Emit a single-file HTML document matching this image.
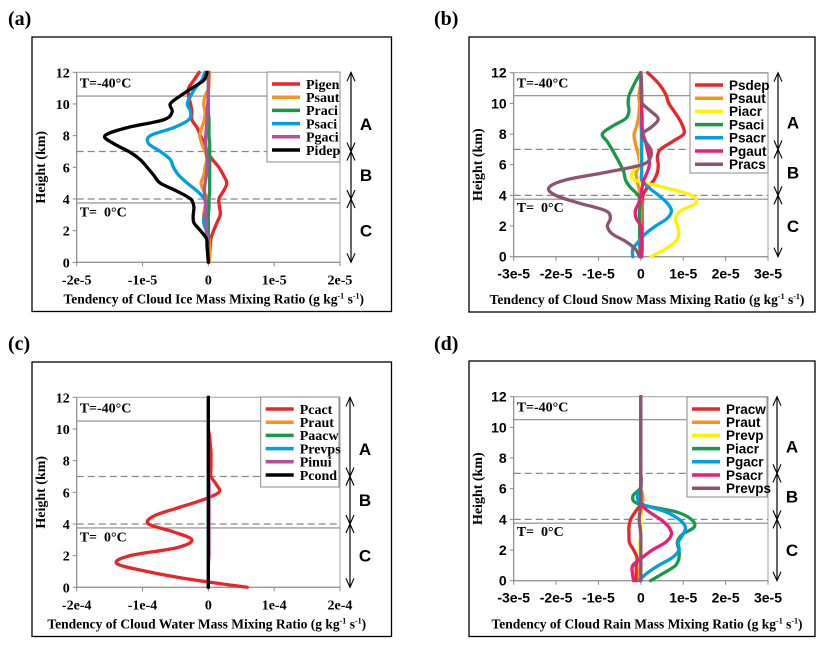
<!DOCTYPE html>
<html><head><meta charset="utf-8"><style>
html,body{margin:0;padding:0;background:#fff;}
svg{display:block;}
.serif{font-family:"Liberation Serif",serif;font-weight:bold;}
.sans{font-family:"Liberation Sans",sans-serif;font-weight:bold;}
</style></head><body>
<svg id="fig" width="824" height="645" viewBox="0 0 824 645" xmlns="http://www.w3.org/2000/svg"></svg>
<script>
// shared heights (km)
const heights = [0,0.5,1,1.5,2,2.5,3,3.5,4,4.5,5,5.5,6,6.5,7,7.5,8,8.5,9,9.5,10,10.5,11,11.5,12];
const yTicks = [0,2,4,6,8,10,12];
// panel a (units 1e-6)
const aNames = ["Pigen","Psaut","Praci","Psaci","Pgaci","Pidep"];
const aPigen = [0.1,0.2,0.3,0.4,0.8,1.3,1.8,1.7,1.6,2.3,2.8,2.3,1.6,0.6,-0.2,-0.6,-1.2,-1.7,-2.5,-2.5,-2.7,-3.0,-3.0,-2.2,-1.4];
const aPsaut = [0.1,0.2,0.2,0.1,-0.3,-0.7,-0.7,-0.5,-0.2,-0.7,-1.1,-0.7,-0.5,-0.2,-0.5,-1.0,-1.3,-1.0,-0.6,-0.5,-0.7,-0.5,0.05,0.1,0.2];
const aPraci = [0,0,0,0,0,0,0,0.1,0.1,0.2,0.2,0.2,0.2,0.2,0.2,0.2,0.1,0.1,0.1,0,0,0,0,0,0];
const aPsaci = [0,-0.1,-0.1,-0.1,-0.3,-0.7,-0.6,-0.3,-0.6,-1.7,-3.2,-4.5,-5.3,-5.8,-7.3,-9.1,-8.8,-5.3,-3.0,-2.7,-3.2,-2.7,-2.0,-1.0,-0.5];
const aPgaci = [0,0,-0.1,-0.2,-0.3,-0.3,-0.4,-0.4,-0.5,-0.6,-0.5,-0.3,-0.2,-0.2,-0.3,-0.4,-0.4,-0.3,-0.2,-0.2,-0.1,0,0,0,0];
const aPidep = [0,-0.1,-0.2,-0.3,-1.2,-2.2,-2.3,-2.2,-2.7,-4.8,-7.3,-8.3,-9.3,-10.4,-12.1,-14.4,-15.7,-12.4,-6.8,-5.5,-5.8,-4.3,-2.5,-0.7,-0.2];
const aXTicks = ["-2e-5","-1e-5","0","1e-5","2e-5"];
// panel b (units 1e-6)
const bNames = ["Psdep","Psaut","Piacr","Psaci","Psacr","Pgaut","Pracs"];
const bPsdep = [0.2,0.3,0.3,0.3,0.3,0.3,0.3,0.3,0.5,1.5,3.1,3.9,4.1,3.9,4.6,7.4,10.1,9.9,9.0,7.8,6.6,6.0,5.0,3.5,1.6];
const bPsaut = [0,0,0,0,0,0,0,0,-0.1,-0.5,-0.9,-1.1,-0.3,-0.5,-0.9,-1.4,-1.6,-1.0,-0.6,-0.4,-0.3,-0.5,-0.2,0,0];
const bPiacr = [2.3,5.8,8.2,9.0,8.6,8.2,9.4,13.0,12.0,5.8,-1.4,-2.0,-0.3,0,0,0,0,0,0,0,0,0,0,0,0];
const bPsaci = [0,-0.2,-0.3,-0.3,-0.3,-0.3,-0.3,-0.1,-0.6,-2.4,-3.6,-4.0,-4.8,-5.8,-6.8,-7.9,-9.1,-6.8,-3.6,-2.8,-3.0,-2.8,-2.0,-1.1,0];
const bPsacr = [-1.9,-1.9,-0.5,1.1,3.5,6.2,7.2,6.2,4.2,1.9,0.2,0.2,0.2,0.2,0.2,0.2,0.2,0.1,0.1,0.1,0.1,0,0,0,0];
const bPgaut = [0.2,0.2,0.2,0.2,0,-1.1,-1.3,-0.5,0,0.3,0.7,1.5,2.0,1.9,1.5,1.1,0.5,0.3,0.3,0.2,0.2,0.2,0.1,0.1,0];
const bPracs = [-0.3,-1.3,-3.6,-6.8,-7.9,-7.2,-8.3,-14.6,-20.1,-21.7,-17.8,-8.3,0.3,2.3,2.3,1.1,0.3,2.7,4.1,2.3,0.3,0.2,0.2,0.1,0];
const bXTicks = ["-3e-5","-2e-5","-1e-5","0","1e-5","2e-5","3e-5"];
// panel c (units 1e-5)
const cNames = ["Pcact","Praut","Paacw","Prevps","Pinui","Pcond"];
const cPcact = [5.9,-2.7,-9.3,-13.9,-11.9,-4.8,-2.5,-5.3,-9.1,-8.3,-4.8,-1.0,1.6,1.2,0.4,0.4,0.4,0.4,0.3,0.2,0,0,0,0,0];
const cPraut = [0,0,0,0,0,0,0,0,0,0,0,0,0,0,0,0,0,0,0,0,0,0,0,0,0];
const cPaacw = [0,0,0,0,0,0,0,0,0,0,0,0,0,0,0,0,0,0,0,0,0,0,0,0,0];
const cPrevps = [0,0,0,0,0,0,0,0,0,0,0,0,0,0,0,0,0,0,0,0,0,0,0,0,0];
const cPinui = [0,0,0,0,0.1,0.1,0.1,0.1,0.1,0.1,0.1,0.1,0.1,0.1,0,0,0,0,0,0,0,0,0,0,0];
const cPcond = [0,0,0,0,0,0,0,0,0,0,0,0,0,0,0,0,0,0,0,0,0,0,0,0,0];
const cXTicks = ["-2e-4","-1e-4","0","1e-4","2e-4"];
// panel d (units 1e-6)
const dNames = ["Pracw","Praut","Prevp","Piacr","Pgacr","Psacr","Prevps"];
const dPracw = [-1.1,-1.1,-1.1,-0.9,-1.7,-2.7,-2.8,-2.8,-2.4,-1.3,0,0,0,0,0,0,0,0,0,0,0,0,0,0,0];
const dPraut = [-0.3,-0.3,-0.2,-0.1,0,0,0,0,0,0.1,0.3,0.5,0,0,0,0,0,0,0,0,0,0,0,0,0];
const dPrevp = [0,0,0,0,-0.2,-0.2,0,0,0,0,0,0,0,0,0,0,0,0,0,0,0,0,0,0,0];
const dPiacr = [2.3,5.4,8.2,9.0,9.0,8.6,9.7,12.6,11.9,8.2,-0.5,-1.9,-0.2,0,0,0,0,0,0,0,0,0,0,0,0];
const dPgacr = [-0.5,1.5,4.2,7.4,9.0,8.8,9.9,10.5,9.0,5.8,0.3,-0.8,0,0,0,0,0,0,0,0,0,0,0,0,0];
const dPsacr = [-1.7,-2.0,-1.9,0.3,2.7,5.8,7.2,6.6,4.6,1.9,0,0,0,0,0,0,0,0,0,0,0,0,0,0,0];
const dPrevps = [0,0,0,0,0,0,0,-0.2,-0.4,-0.2,0,0,0,0.1,0,0,0,0,0,0,0,0,0,0,0];
const dXTicks = ["-3e-5","-2e-5","-1e-5","0","1e-5","2e-5","3e-5"];

const NS="http://www.w3.org/2000/svg";
const svg=document.getElementById('fig');
function mk(tag,attrs,parent,text){const e=document.createElementNS(NS,tag);for(const k in attrs)e.setAttribute(k,attrs[k]);if(text!==undefined)e.textContent=text;(parent||svg).appendChild(e);return e;}
function spline(pts){let d="M"+pts[0][0].toFixed(2)+","+pts[0][1].toFixed(2);for(let i=0;i<pts.length-1;i++){const p0=pts[Math.max(0,i-1)],p1=pts[i],p2=pts[i+1],p3=pts[Math.min(pts.length-1,i+2)];const c1=[p1[0]+(p2[0]-p0[0])/6,p1[1]+(p2[1]-p0[1])/6],c2=[p2[0]-(p3[0]-p1[0])/6,p2[1]-(p3[1]-p1[1])/6];d+=" C"+c1[0].toFixed(2)+","+c1[1].toFixed(2)+" "+c2[0].toFixed(2)+","+c2[1].toFixed(2)+" "+p2[0].toFixed(2)+","+p2[1].toFixed(2);}return d;}

function panel(cfg){
  const g=mk('g',{});
  
  
  const L=cfg.px0,R=cfg.px1,T=cfg.py0,B=cfg.py1;
  const xs=v=>L+(v-cfg.xmin)/(cfg.xmax-cfg.xmin)*(R-L);
  const ys=h=>B-h/12*(B-T);
  const tickFont=cfg.sansTicks?'sans':'serif';
  const lbl=mk('text',{x:cfg.labX,y:cfg.labY,'font-size':20,class:'serif'},g,'('+cfg.id+')');
  
  
  const fr=mk('rect',{x:cfg.fx0,y:cfg.fy0,width:cfg.fx1-cfg.fx0,height:cfg.fy1-cfg.fy0,fill:'none',stroke:'#000','stroke-width':1.3},g);
  
  
  const pa=mk('rect',{x:L,y:T,width:R-L,height:B-T,fill:'none',stroke:'#a0a0a0','stroke-width':1},g);
  
  
  mk('line',{x1:L,y1:T,x2:L,y2:B,stroke:'#888','stroke-width':1},g);
  mk('line',{x1:L,y1:B,x2:R,y2:B,stroke:'#888','stroke-width':1},g);
  yTicks.forEach(t=>{
    mk('line',{x1:L-4,y1:ys(t),x2:L,y2:ys(t),stroke:'#888'},g);
    const tx=mk('text',{x:L-7,y:ys(t)+5,'font-size':14,'text-anchor':'end',class:tickFont},g,String(t));
    
    
  });
  const n=cfg.xticks.length;
  cfg.xticks.forEach((t,i)=>{
    const x=L+i/(n-1)*(R-L);
    mk('line',{x1:x,y1:B,x2:x,y2:B+4,stroke:'#888'},g);
    const tx=mk('text',{x:x,y:B+22,'font-size':14,'text-anchor':'middle',class:tickFont},g,t);
    
    
  });
  mk('line',{x1:L,y1:ys(10.5),x2:R,y2:ys(10.5),stroke:'#888','stroke-width':1.2},g);
  mk('line',{x1:L,y1:ys(3.75),x2:R,y2:ys(3.75),stroke:'#888','stroke-width':1.2},g);
  mk('line',{x1:L,y1:ys(7),x2:R,y2:ys(7),stroke:'#888','stroke-width':1.2,'stroke-dasharray':'7,4'},g);
  mk('line',{x1:L,y1:ys(4),x2:R,y2:ys(4),stroke:'#888','stroke-width':1.2,'stroke-dasharray':'7,4'},g);
  const t1=mk('text',{x:L+3,y:ys(11.05),'font-size':14,class:'serif'},g,'T=-40°C');
  
  
  const t2=mk('text',{x:L+3,y:ys(2.9),'font-size':14,class:'serif'},g,'T=  0°C');
  
  
  t2.style.whiteSpace='pre';
  cfg.series.forEach((s,i)=>{
    const pts=heights.map((h,k)=>[xs(s.v[k]),ys(h)]);
    const p=mk('path',{d:spline(pts),fill:'none',stroke:s.c,'stroke-width':s.w||3.3,'stroke-linejoin':'round','stroke-linecap':'round'},g);
    
    
  });
  const lg=mk('g',{},g);
  
  
  mk('rect',{x:cfg.lx0,y:cfg.ly0,width:cfg.lx1-cfg.lx0,height:cfg.ly1-cfg.ly0,fill:'#fff',stroke:'#888','stroke-width':1},lg);
  cfg.series.forEach((s,i)=>{
    const y=cfg.ly0+12+i*13.2;
    mk('line',{x1:cfg.lx0+5,y1:y,x2:cfg.lx0+33,y2:y,stroke:s.c,'stroke-width':3.5},lg);
    const tx=mk('text',{x:cfg.lx0+39,y:y+4.8,'font-size':cfg.sansLegend?13.5:14,class:cfg.sansLegend?'sans':'serif'},lg,s.n);
    
    
  });
  const yt=mk('text',{x:0,y:0,'font-size':14,'text-anchor':'middle',class:'serif',transform:'translate('+(cfg.fx0+13)+','+((T+B)/2)+') rotate(-90)'},g,'Height (km)');
  
  
  const xt=mk('text',{x:(cfg.fx0+cfg.fx1)/2+cfg.xtOff,y:cfg.fy1-8,'font-size':13.5,'text-anchor':'middle',class:'serif'},g);
  
  
  xt.innerHTML='Tendency of Cloud '+cfg.species+' Mass Mixing Ratio (g kg<tspan dy="-5" font-size="8">-1</tspan><tspan dy="5"> s</tspan><tspan dy="-5" font-size="8">-1</tspan><tspan dy="5">)</tspan>';
  const ax=cfg.arrowX;
  mk('line',{x1:ax,y1:ys(12),x2:ax,y2:ys(0),stroke:'#000','stroke-width':1.2},g);
  const head=(y,dir)=>mk('path',{d:'M'+(ax-4)+','+(y-dir*9)+' L'+ax+','+y+' L'+(ax+4)+','+(y-dir*9),fill:'none',stroke:'#000','stroke-width':1.1},g);
  head(ys(12),-1);head(ys(0),1);head(ys(7),1);head(ys(7),-1);head(ys(4),1);head(ys(4),-1);
  [['A',8.75],['B',5.5],['C',2]].forEach(([t,h])=>{
    const tx=mk('text',{x:ax+15,y:ys(h)+6,'font-size':17,'text-anchor':'middle',class:'sans'},g,t);
    
    
  });
}
const RED='#e8262a',ORG='#f7941d',YEL='#fff200',GRN='#1a9849',BLU='#00a0e0',MAG='#e91e7a',PUR='#b4509a',BRN='#8c5473',BLK='#000';
panel({id:'a',labX:8,labY:25,fx0:32,fy0:37,fx1:391.5,fy1:311.5,px0:76.7,px1:340,py0:72.3,py1:262.3,xmin:-20,xmax:20,xticks:aXTicks,
  lx0:267,ly0:72,lx1:340,ly1:162,arrowX:351,species:'Ice',xtOff:2,
  series:[{n:'Pigen',c:RED,v:aPigen},{n:'Psaut',c:ORG,v:aPsaut},{n:'Praci',c:GRN,v:aPraci},{n:'Psaci',c:BLU,v:aPsaci},{n:'Pgaci',c:PUR,v:aPgaci},{n:'Pidep',c:BLK,v:aPidep}]});
panel({id:'b',labX:434,labY:25,fx0:469,fy0:37,fx1:815,fy1:312,px0:513.7,px1:768,py0:72.7,py1:256.7,xmin:-30,xmax:30,xticks:bXTicks,sansTicks:true,sansLegend:true,
  lx0:690,ly0:73,lx1:768,ly1:173,arrowX:778,species:'Snow',xtOff:5,
  series:[{n:'Psdep',c:RED,v:bPsdep},{n:'Psaut',c:ORG,v:bPsaut},{n:'Piacr',c:YEL,v:bPiacr},{n:'Psaci',c:GRN,v:bPsaci},{n:'Psacr',c:BLU,v:bPsacr},{n:'Pgaut',c:MAG,v:bPgaut},{n:'Pracs',c:BRN,v:bPracs}]});
panel({id:'c',labX:8,labY:350,fx0:32,fy0:362,fx1:391.5,fy1:636.5,px0:76.7,px1:340,py0:397.3,py1:587.3,xmin:-20,xmax:20,xticks:cXTicks,
  lx0:260.7,ly0:397,lx1:339,ly1:487,arrowX:350,species:'Water',xtOff:-5,
  series:[{n:'Pcact',c:RED,v:cPcact},{n:'Praut',c:ORG,v:cPraut},{n:'Paacw',c:GRN,v:cPaacw},{n:'Prevps',c:BLU,v:cPrevps},{n:'Pinui',c:PUR,v:cPinui},{n:'Pcond',c:BLK,v:cPcond}]});
panel({id:'d',labX:434,labY:350,fx0:469,fy0:361,fx1:815,fy1:636.5,px0:513.7,px1:768,py0:396.7,py1:580.7,xmin:-30,xmax:30,xticks:dXTicks,sansTicks:true,sansLegend:true,
  lx0:687,ly0:397,lx1:767,ly1:497,arrowX:777,species:'Rain',xtOff:5,
  series:[{n:'Pracw',c:RED,v:dPracw},{n:'Praut',c:ORG,v:dPraut},{n:'Prevp',c:YEL,v:dPrevp},{n:'Piacr',c:GRN,v:dPiacr},{n:'Pgacr',c:BLU,v:dPgacr},{n:'Psacr',c:MAG,v:dPsacr},{n:'Prevps',c:BRN,v:dPrevps}]});
</script>
</body></html>
